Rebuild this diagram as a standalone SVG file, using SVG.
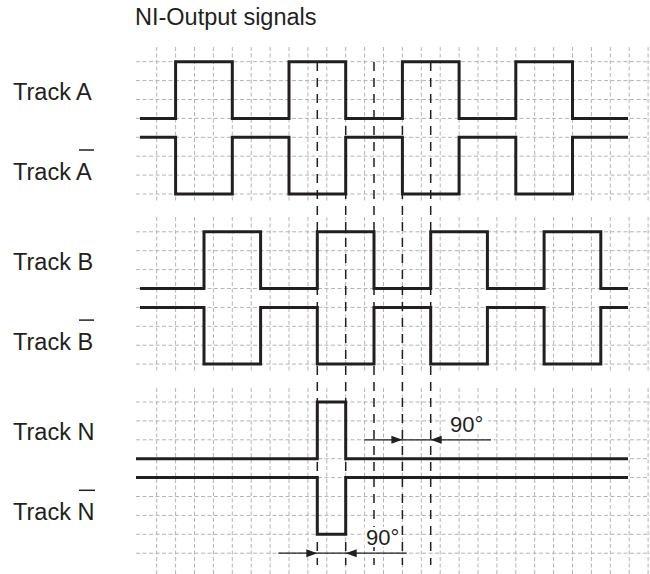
<svg xmlns="http://www.w3.org/2000/svg" width="650" height="574" viewBox="0 0 650 574">
<style>
.grid{stroke:#b4b4b4;stroke-width:1;stroke-dasharray:4 2.5;fill:none}
.sig{stroke:#231f20;stroke-width:3;fill:none;stroke-linejoin:miter;stroke-linecap:butt}
.dash{stroke:#231f20;stroke-width:1.5;stroke-dasharray:9 7;fill:none}
.dim{stroke:#231f20;stroke-width:1.3;fill:none}
.head{fill:#231f20;stroke:none}
.lbl{font-family:"Liberation Sans",Arial,sans-serif;font-size:23.5px;fill:#231f20}
.deg{font-family:"Liberation Sans",Arial,sans-serif;font-size:22px;fill:#231f20}
.ovl{stroke:#231f20;stroke-width:1.5}
</style>
<rect width="650" height="574" fill="#fff"/>
<g id="grid">
<path class="grid" d="M136,61.7H650M136,80.6H650M136,99.5H650M136,118.4H650M136,137.3H650M136,156.2H650M136,175.1H650M136,194H650
M136,231.8H650M136,250.7H650M136,269.6H650M136,288.5H650M136,307.4H650M136,326.3H650M136,345.2H650M136,364.1H650
M136,402H650M136,420.9H650M136,439.8H650M136,458.7H650M136,477.6H650M136,496.5H650M136,515.4H650M136,534.3H650M136,553.2H650"/>
<path class="grid" d="M156.7,47V202M175.6,47V202M194.5,47V202M213.4,47V202M232.3,47V202M251.2,47V202M270.1,47V202M289,47V202M307.9,47V202M326.8,47V202M345.7,47V202M364.6,47V202M383.5,47V202M402.4,47V202M421.3,47V202M440.2,47V202M459.1,47V202M478,47V202M496.9,47V202M515.8,47V202M534.7,47V202M553.6,47V202M572.5,47V202M591.4,47V202M610.3,47V202M629.2,47V202M648.1,47V202"/>
<path class="grid" d="M156.7,217V372M175.6,217V372M194.5,217V372M213.4,217V372M232.3,217V372M251.2,217V372M270.1,217V372M289,217V372M307.9,217V372M326.8,217V372M345.7,217V372M364.6,217V372M383.5,217V372M402.4,217V372M421.3,217V372M440.2,217V372M459.1,217V372M478,217V372M496.9,217V372M515.8,217V372M534.7,217V372M553.6,217V372M572.5,217V372M591.4,217V372M610.3,217V372M629.2,217V372M648.1,217V372"/>
<path class="grid" d="M156.7,388V574M175.6,388V574M194.5,388V574M213.4,388V574M232.3,388V574M251.2,388V574M270.1,388V574M289,388V574M307.9,388V574M326.8,388V574M345.7,388V574M364.6,388V574M383.5,388V574M402.4,388V574M421.3,388V574M440.2,388V574M459.1,388V574M478,388V574M496.9,388V574M515.8,388V574M534.7,388V574M553.6,388V574M572.5,388V574M591.4,388V574M610.3,388V574M629.2,388V574M648.1,388V574"/>
</g>
<text class="lbl" x="135" y="24.5">NI-Output signals</text>
<g id="connectors">
<path class="dash" d="M317.3,62V565M345.7,62V565M374,62V565M402.4,62V565M430.7,62V565"/>
<path class="dim" d="M364.3,439.8H491"/>
<path class="head" d="M402.4,439.8L391.4,435.8V443.8Z"/>
<path class="head" d="M430.7,439.8L441.7,435.8V443.8Z"/>
<path class="dim" d="M278.3,553.2H406.7"/>
<path class="head" d="M317.3,553.2L306.3,549.2V557.2Z"/>
<path class="head" d="M345.7,553.2L356.7,549.2V557.2Z"/>
<rect x="448" y="414" width="40" height="20" fill="#fff"/>
<text class="deg" x="450" y="432">90°</text>
<rect x="364.5" y="527" width="35" height="20" fill="#fff"/>
<text class="deg" x="366" y="545">90°</text>
</g>
<g id="trackA">
<text class="lbl" x="13" y="99.5">Track A</text>
<path class="sig" d="M140,118.4H175.6V61.7H232.3V118.4H289V61.7H345.7V118.4H402.4V61.7H459.1V118.4H515.8V61.7H572.5V118.4H628"/>
</g>
<g id="trackAbar">
<text class="lbl" x="13" y="180">Track A</text>
<line class="ovl" x1="79" y1="150" x2="94" y2="150"/>
<path class="sig" d="M140,137.3H175.6V194H232.3V137.3H289V194H345.7V137.3H402.4V194H459.1V137.3H515.8V194H572.5V137.3H628"/>
</g>
<g id="trackB">
<text class="lbl" x="13" y="269.6">Track B</text>
<path class="sig" d="M140,288.5H204V231.8H260.6V288.5H317.3V231.8H374V288.5H430.7V231.8H487.4V288.5H544.1V231.8H600.8V288.5H628"/>
</g>
<g id="trackBbar">
<text class="lbl" x="13" y="350.1">Track B</text>
<line class="ovl" x1="79" y1="320.1" x2="94" y2="320.1"/>
<path class="sig" d="M140,307.4H204V364.1H260.6V307.4H317.3V364.1H374V307.4H430.7V364.1H487.4V307.4H544.1V364.1H600.8V307.4H628"/>
</g>
<g id="trackN">
<text class="lbl" x="13" y="439.8">Track N</text>
<path class="sig" d="M136,458.7H317.3V402H345.7V458.7H628"/>
</g>
<g id="trackNbar">
<text class="lbl" x="13" y="520.3">Track N</text>
<line class="ovl" x1="79" y1="490.3" x2="95" y2="490.3"/>
<path class="sig" d="M136,477.6H317.3V534.3H345.7V477.6H628"/>
</g>
</svg>
